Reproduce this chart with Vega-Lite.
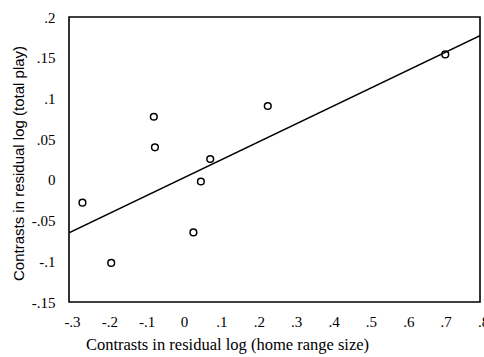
{
  "$schema": "https://vega.github.io/schema/vega-lite/v6.json",
  "autosize": "none",
  "width": 411,
  "height": 285,
  "padding": {"left": 69, "top": 17, "right": 4, "bottom": 55},
  "background": "white",
  "config": {
    "view": {"stroke": "black", "strokeWidth": 1.6},
    "font": "Liberation Serif",
    "axis": {"grid": false, "ticks": false, "domain": false, "labelOverlap": false, "labelFont": "Liberation Serif", "titleFont": "Liberation Serif", "labelColor": "black", "titleColor": "black", "labelFontSize": 15, "titleFontSize": 16.5, "titleFontWeight": "normal"}
  },
  "datasets": {
    "pts": [
      {"x": -0.264, "y": -0.028},
      {"x": -0.187, "y": -0.102},
      {"x": -0.073, "y": 0.0775},
      {"x": -0.070, "y": 0.040},
      {"x": 0.033, "y": -0.0645},
      {"x": 0.053, "y": -0.002},
      {"x": 0.078, "y": 0.0256},
      {"x": 0.232, "y": 0.0907},
      {"x": 0.707, "y": 0.154}
    ],
    "fit": [
      {"x": -0.3, "y": -0.065},
      {"x": 0.8, "y": 0.177}
    ]
  },
  "encoding": {
    "x": {"field": "x", "type": "quantitative",
      "scale": {"domain": [-0.3, 0.8], "nice": false, "zero": false},
      "axis": {"values": [-0.3, -0.2, -0.1, 0, 0.1, 0.2, 0.3, 0.4, 0.5, 0.6, 0.7, 0.8],
        "format": ".1f",
        "labelExpr": "datum.value == 0 ? '0' : (datum.value < 0 ? '-' : '') + substring(format(abs(datum.value), '.2~f'), 1)",
        "labelFontSize": 15, "labelFont": "Liberation Serif", "labelOffset": 3,
        "labelPadding": 12, "labelFlush": false, "labelOverlap": false, "labelBound": false,
        "title": "Contrasts in residual log (home range size)", "titleX": 158, "titleY": 47, "titleBaseline": "alphabetic"}},
    "y": {"field": "y", "type": "quantitative",
      "scale": {"domain": [-0.15, 0.2], "nice": false, "zero": false},
      "axis": {"values": [-0.15, -0.1, -0.05, 0, 0.05, 0.1, 0.15, 0.2],
        "format": ".2f",
        "labelExpr": "datum.value == 0 ? '0' : (datum.value < 0 ? '-' : '') + substring(format(abs(datum.value), '.2~f'), 1)",
        "labelFontSize": 15, "labelFont": "Liberation Serif",
        "labelPadding": 14, "labelFlush": false, "labelOverlap": false, "labelBound": false,
        "title": "Contrasts in residual log (total play)", "titleFont": "Liberation Sans", "titleFontSize": 15,
        "titleX": -51, "titleY": 146, "titleBaseline": "middle"}}
  },
  "layer": [
    {
      "data": {"name": "fit"},
      "mark": {"type": "line", "color": "black", "strokeWidth": 1.5, "clip": true}
    },
    {
      "data": {"name": "pts"},
      "mark": {"type": "point", "shape": "circle", "filled": false, "color": "black", "size": 45, "strokeWidth": 1.5, "opacity": 1}
    }
  ]
}
